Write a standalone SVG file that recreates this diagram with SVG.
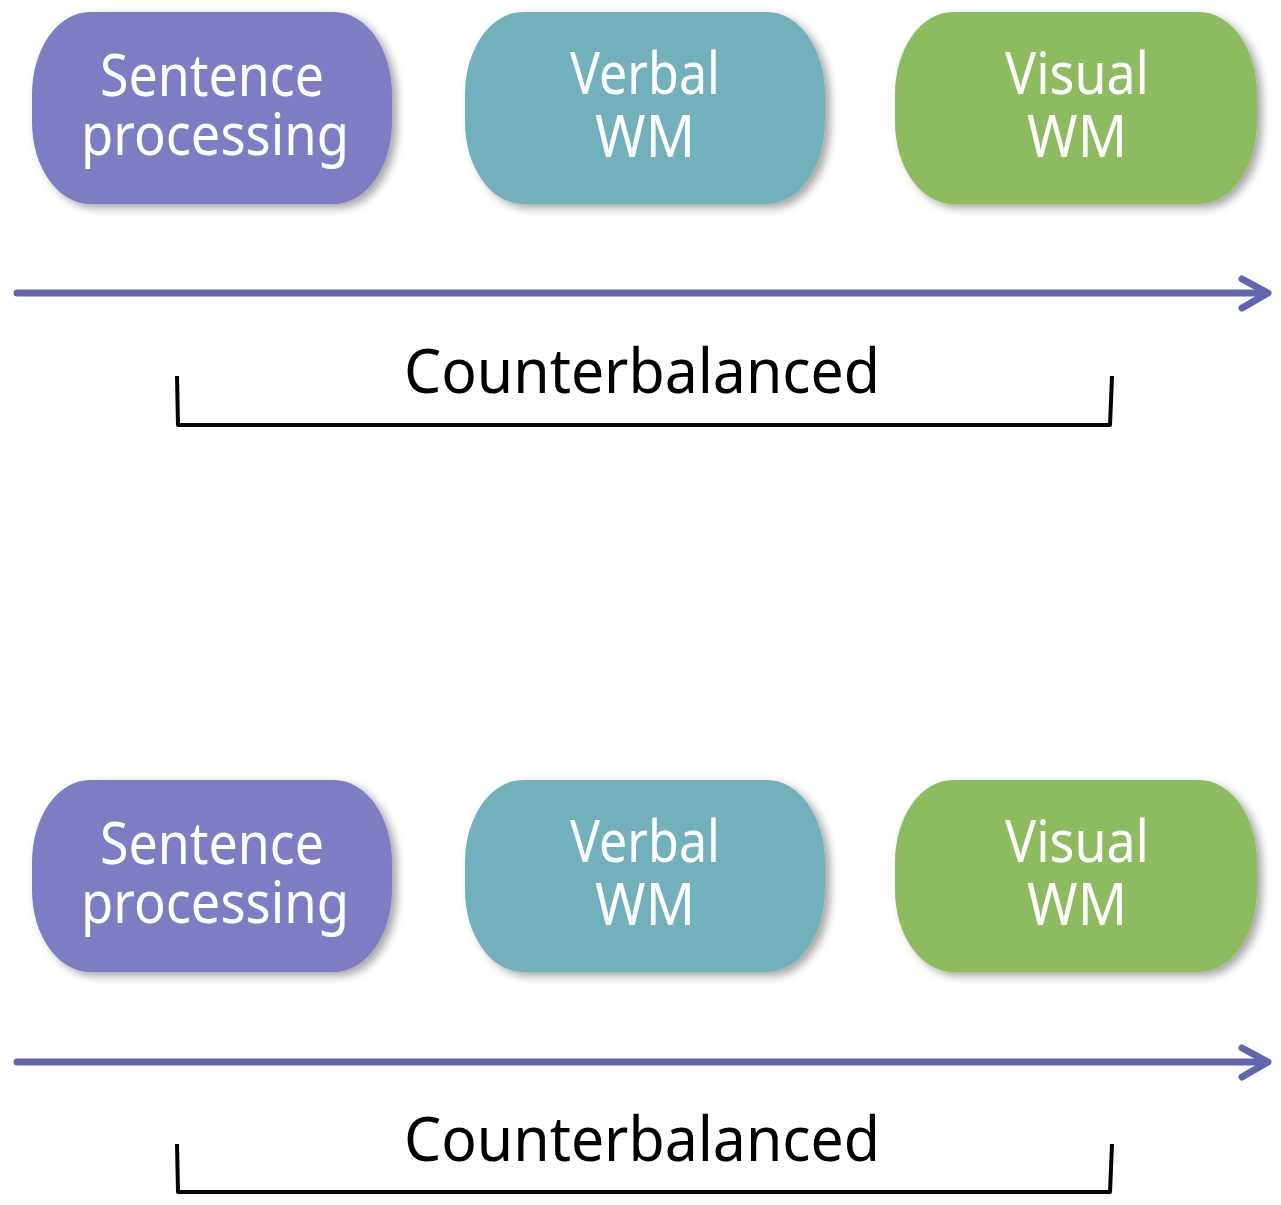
<svg xmlns="http://www.w3.org/2000/svg" width="1281" height="1205" viewBox="0 0 1281 1205">
  <style>
    .box { filter: url(#shadow); }
    .purple { fill: #7e7dc3; }
    .teal { fill: #72b1bc; }
    .green { fill: #8dbb5e; }
    .label { font-family: "Noto Sans", "Open Sans", sans-serif; font-size: 58px; fill: #ffffff; text-anchor: middle; }
    .caption { font-family: "Noto Sans", "Open Sans", sans-serif; font-size: 62px; fill: #000000; text-anchor: middle; }
    .timeline { stroke: #6264ae; stroke-width: 7; fill: none; stroke-linecap: round; stroke-linejoin: round; }
    .bracket { stroke: #000000; stroke-width: 4; fill: none; stroke-linejoin: round; }
  </style>
  <defs>
    <filter id="shadow" x="-10%" y="-10%" width="125%" height="130%">
      <feDropShadow dx="5" dy="4" stdDeviation="4" flood-color="#000000" flood-opacity="0.35"/>
    </filter>
  </defs>
  <rect width="1281" height="1205" fill="#ffffff"/>

  <!-- upper sequence -->
  <g id="sentence-1">
    <rect class="box purple" x="32" y="12" width="360" height="192" rx="58" ry="82"/>
    <text class="label" x="212" y="96" textLength="224" lengthAdjust="spacingAndGlyphs">Sentence</text>
    <text class="label" x="215" y="155" textLength="268" lengthAdjust="spacingAndGlyphs">processing</text>
  </g>
  <g id="verbal-1">
    <rect class="box teal" x="465" y="12" width="360" height="192" rx="58" ry="82"/>
    <text class="label" x="645" y="94" textLength="150" lengthAdjust="spacingAndGlyphs">Verbal</text>
    <text class="label" x="645" y="157" textLength="100" lengthAdjust="spacingAndGlyphs">WM</text>
  </g>
  <g id="visual-1">
    <rect class="box green" x="895" y="12" width="362" height="192" rx="58" ry="82"/>
    <text class="label" x="1077" y="94" textLength="144" lengthAdjust="spacingAndGlyphs">Visual</text>
    <text class="label" x="1077" y="157" textLength="100" lengthAdjust="spacingAndGlyphs">WM</text>
  </g>
  <g id="caption-1">
    <text class="caption" x="642" y="393" textLength="476" lengthAdjust="spacingAndGlyphs">Counterbalanced</text>
  </g>

  <!-- lower sequence -->
  <g id="sentence-2">
    <rect class="box purple" x="32" y="780" width="360" height="192" rx="58" ry="82"/>
    <text class="label" x="212" y="864" textLength="224" lengthAdjust="spacingAndGlyphs">Sentence</text>
    <text class="label" x="215" y="923" textLength="268" lengthAdjust="spacingAndGlyphs">processing</text>
  </g>
  <g id="verbal-2">
    <rect class="box teal" x="465" y="780" width="360" height="192" rx="58" ry="82"/>
    <text class="label" x="645" y="862" textLength="150" lengthAdjust="spacingAndGlyphs">Verbal</text>
    <text class="label" x="645" y="925" textLength="100" lengthAdjust="spacingAndGlyphs">WM</text>
  </g>
  <g id="visual-2">
    <rect class="box green" x="895" y="780" width="362" height="192" rx="58" ry="82"/>
    <text class="label" x="1077" y="862" textLength="144" lengthAdjust="spacingAndGlyphs">Visual</text>
    <text class="label" x="1077" y="925" textLength="100" lengthAdjust="spacingAndGlyphs">WM</text>
  </g>
  <g id="caption-2">
    <text class="caption" x="642" y="1161" textLength="476" lengthAdjust="spacingAndGlyphs">Counterbalanced</text>
  </g>

  <!-- connectors: timelines and brackets -->
  <g id="connectors">
    <line class="timeline" x1="17" y1="293" x2="1266" y2="293"/>
    <path class="timeline" d="M1242,279 L1268,293 L1242,308"/>
    <path class="bracket" d="M177,376 L178,425 L1110,425 L1112,376"/>

    <line class="timeline" x1="17" y1="1062" x2="1266" y2="1062"/>
    <path class="timeline" d="M1242,1048 L1268,1062 L1242,1077"/>
    <path class="bracket" d="M177,1144 L178,1192 L1110,1192 L1112,1144"/>
  </g>
</svg>
